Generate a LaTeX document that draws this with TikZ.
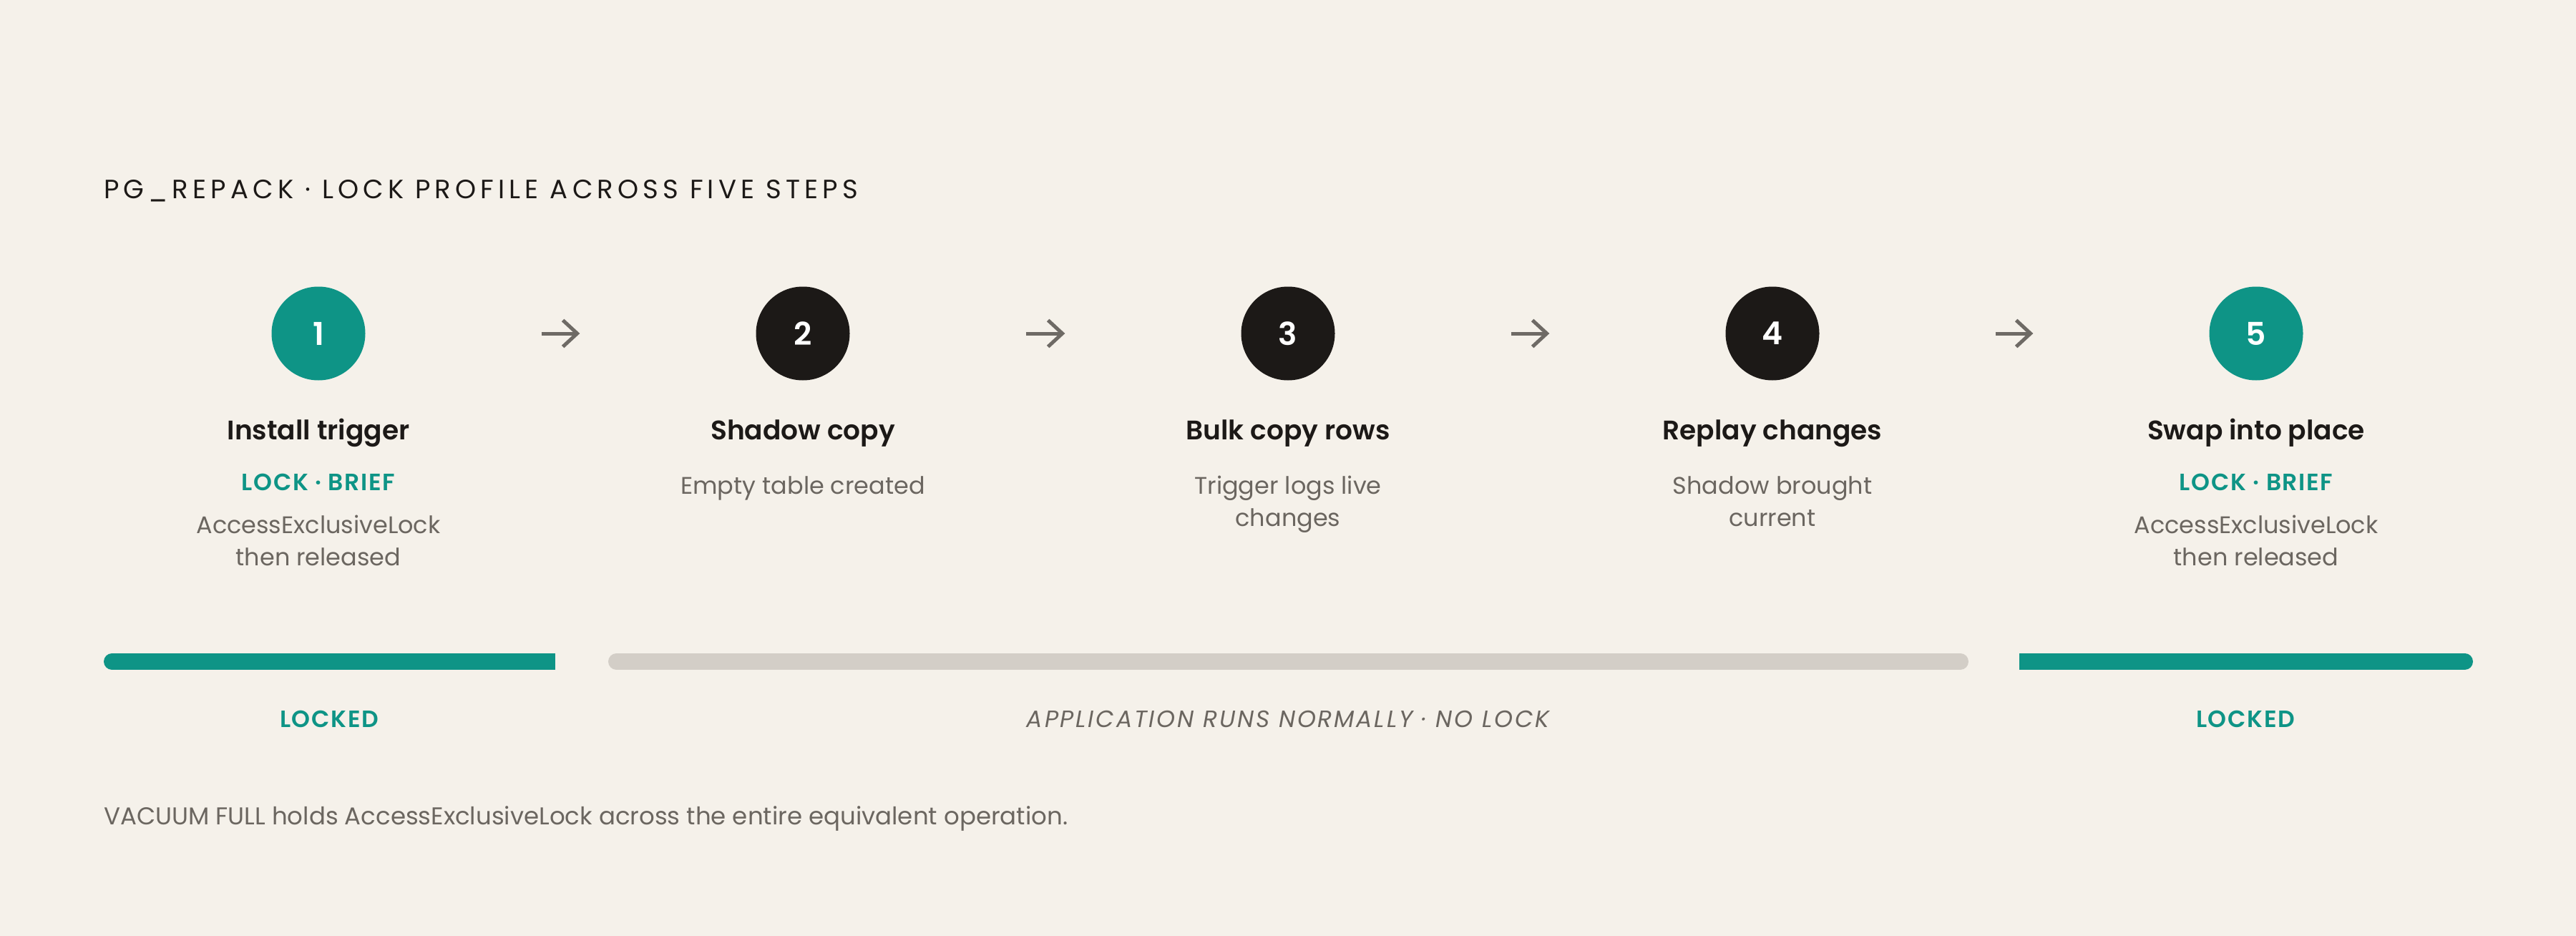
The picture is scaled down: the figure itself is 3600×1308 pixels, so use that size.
\documentclass[tikz,border=0pt]{standalone}
\usepackage{fontspec}
\setmainfont{Poppins}[BoldFont={Poppins SemiBold}]
\usetikzlibrary{arrows.meta}
\definecolor{bg}{HTML}{F5F1EA}
\definecolor{tealc}{HTML}{0E9486}
\definecolor{ink}{HTML}{1C1917}
\definecolor{muted}{HTML}{6B6660}
\definecolor{barg}{HTML}{D3CEC7}
\definecolor{arrowc}{HTML}{6E6A65}
\tikzset{
  headline/.style={font=\fontsize{37}{40}\selectfont\addfontfeature{LetterSpace=16.6}, text=ink, anchor=base west, inner sep=0},
  tealnum/.style={circle, fill=tealc, minimum size=131pt, inner sep=0, text=white, font=\fontsize{44}{44}\selectfont\bfseries},
  darknum/.style={circle, fill=ink, minimum size=131pt, inner sep=0, text=white, font=\fontsize{44}{44}\selectfont\bfseries},
  steptitle/.style={font=\fontsize{37.5}{44}\selectfont\bfseries, text=ink, anchor=base, inner sep=0},
  locktag/.style={font=\fontsize{33}{40}\selectfont\bfseries\addfontfeature{LetterSpace=5}, text=tealc, anchor=base, inner sep=0},
  desc/.style={font=\fontsize{33.5}{40}\selectfont, text=muted, anchor=base, inner sep=0},
  flow/.style={draw=arrowc, line width=5pt, -{Straight Barb[length=20pt, width=37pt, line width=5pt]}, shorten <=246pt, shorten >=246pt},
  lockedlab/.style={font=\fontsize{33}{40}\selectfont\bfseries\addfontfeature{LetterSpace=5}, text=tealc, anchor=base, inner sep=0},
  freelab/.style={font=\fontsize{33}{40}\selectfont\itshape\addfontfeature{LetterSpace=8.5}, text=muted, anchor=base, inner sep=0},
  footnote/.style={font=\fontsize{34}{40}\selectfont, text=muted, anchor=base west, inner sep=0}
}
\begin{document}
\begin{tikzpicture}[x=1pt, y=-1pt]
\fill[bg] (0,0) rectangle (3600,1308);
\useasboundingbox (0,0) rectangle (3600,1308);

\node[headline] (head) at (145,277) {PG\_REPACK · LOCK PROFILE ACROSS FIVE STEPS};

% circles
\node[tealnum] (c1) at (445,466) {1};
\node[darknum] (c2) at (1122,466) {2};
\node[darknum] (c3) at (1800,466) {3};
\node[darknum] (c4) at (2477,466) {4};
\node[tealnum] (c5) at (3153,466) {5};

% arrows
\draw[flow] (c1.east) -- (c2.west);
\draw[flow] (c2.east) -- (c3.west);
\draw[flow] (c3.east) -- (c4.west);
\draw[flow] (c4.east) -- (c5.west);

% step 1
\node[steptitle] (t1) at (445,614) {Install trigger};
\node[locktag] (l1) at (445,685) {LOCK · BRIEF};
\node[desc] (d1a) at (445,745) {AccessExclusiveLock};
\node[desc] (d1b) at (445,790) {then released};
% step 2
\node[steptitle] (t2) at (1122,614) {Shadow copy};
\node[desc] (d2a) at (1122,690) {Empty table created};
% step 3
\node[steptitle] (t3) at (1800,614) {Bulk copy rows};
\node[desc] (d3a) at (1800,690) {Trigger logs live};
\node[desc] (d3b) at (1800,735) {changes};
% step 4
\node[steptitle] (t4) at (2477,614) {Replay changes};
\node[desc] (d4a) at (2477,690) {Shadow brought};
\node[desc] (d4b) at (2477,735) {current};
% step 5
\node[steptitle] (t5) at (3153,614) {Swap into place};
\node[locktag] (l5) at (3153,685) {LOCK · BRIEF};
\node[desc] (d5a) at (3153,745) {AccessExclusiveLock};
\node[desc] (d5b) at (3153,790) {then released};

% bars
\fill[tealc] (300,913) rectangle (776,936);
\draw[tealc, line width=23pt, line cap=round] (156.5,924.5) -- (300,924.5);
\draw[barg, line width=23pt, line cap=round] (861.5,924.5) -- (2739.5,924.5);
\fill[tealc] (2822,913) rectangle (3300,936);
\draw[tealc, line width=23pt, line cap=round] (3300,924.5) -- (3444.5,924.5);

\node[lockedlab] (lk1) at (460,1016) {LOCKED};
\node[freelab] (free) at (1800,1016) {APPLICATION RUNS NORMALLY · NO LOCK};
\node[lockedlab] (lk2) at (3138,1016) {LOCKED};

\node[footnote] (foot) at (145,1152) {VACUUM FULL holds AccessExclusiveLock across the entire equivalent operation.};
\end{tikzpicture}
\end{document}
